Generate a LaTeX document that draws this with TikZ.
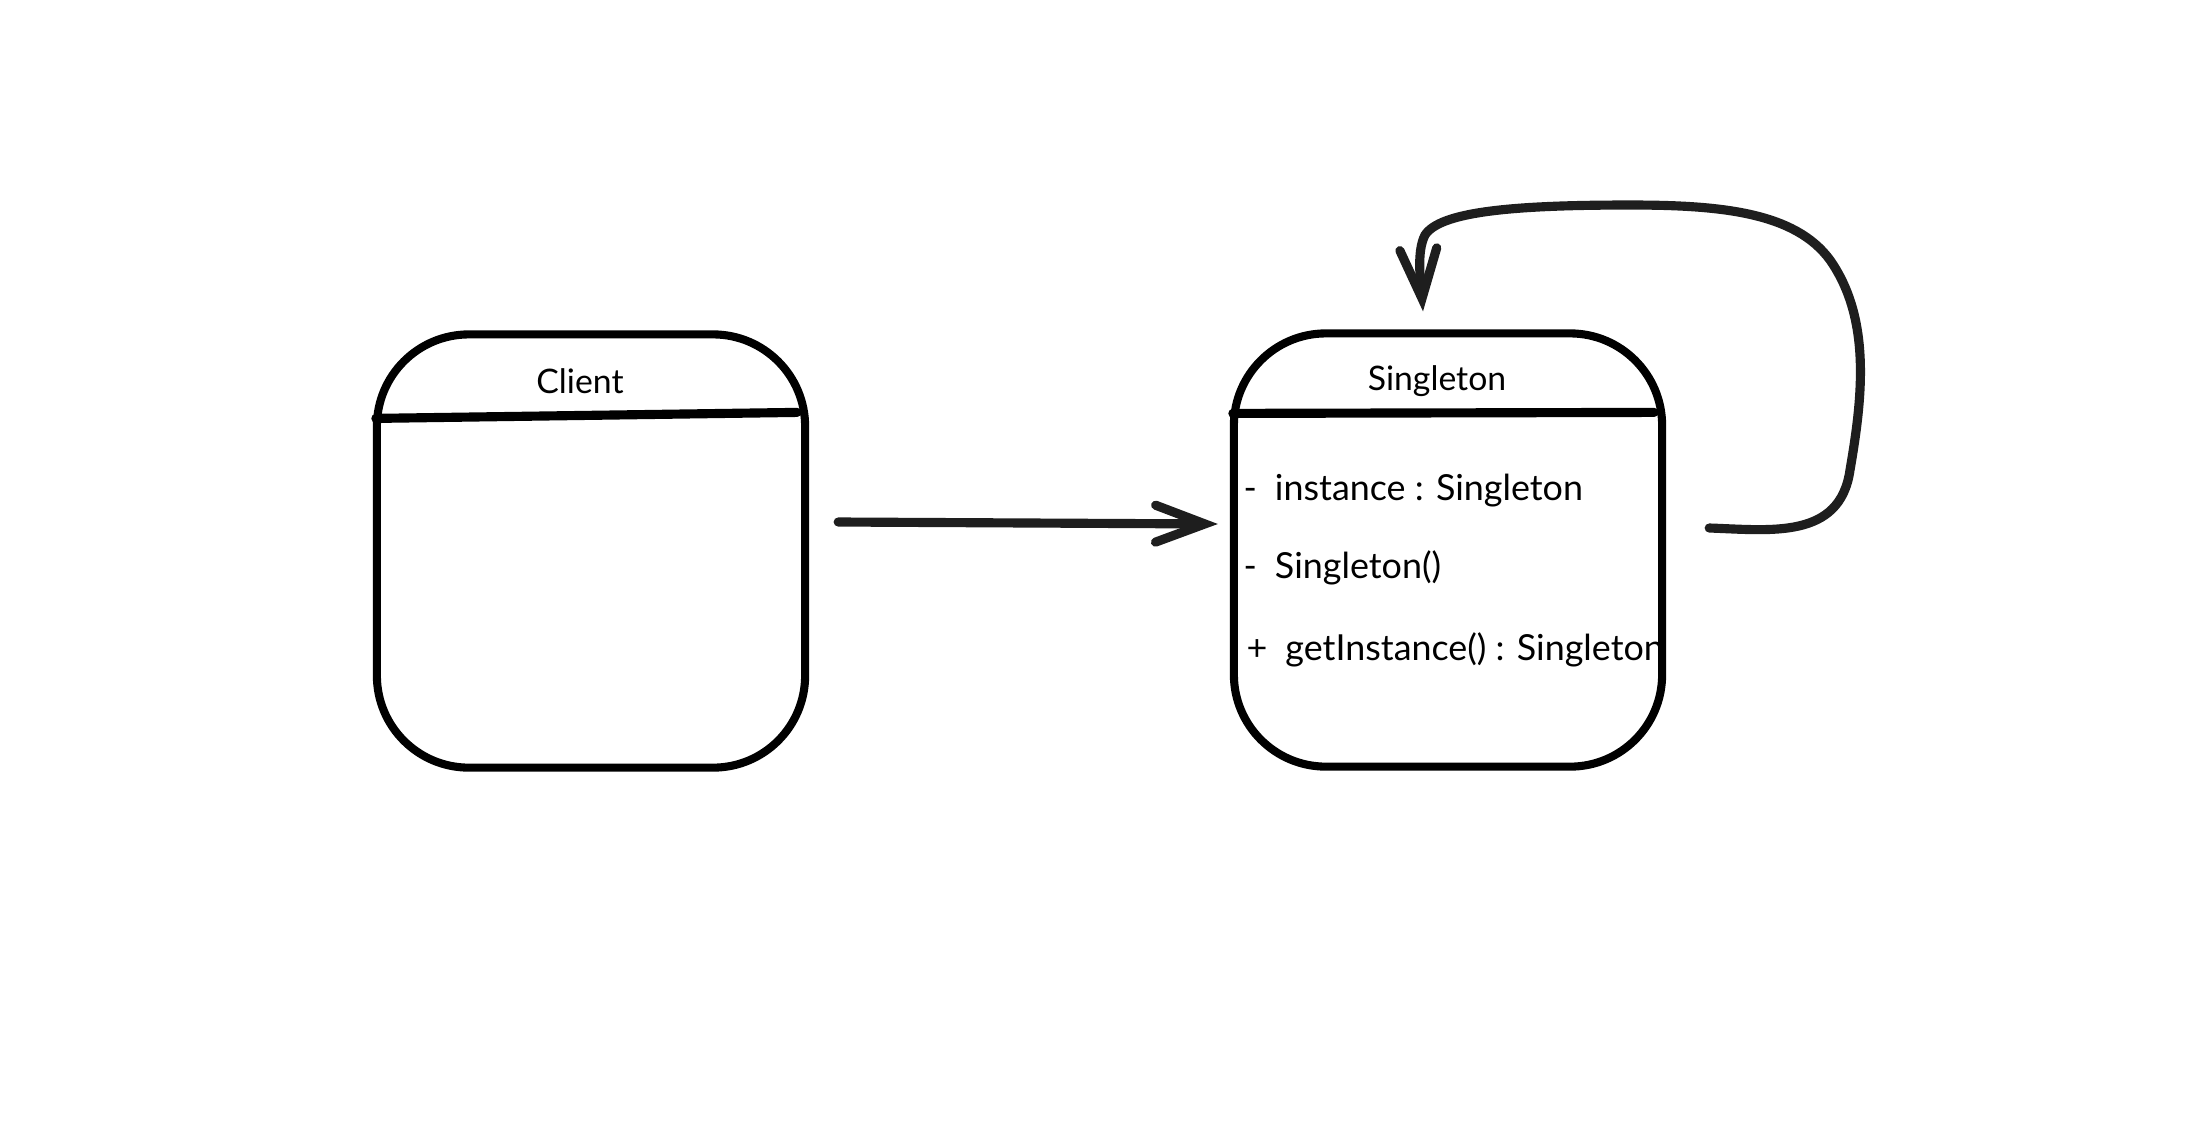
\documentclass[tikz,border=0pt]{standalone}
\usepackage{fontspec}
\setmainfont{Lato}
\usetikzlibrary{arrows.meta}
\definecolor{ink}{HTML}{1E1E1E}
\tikzset{
  classbox/.style={draw=black, line width=2.3pt, rounded corners=0.92cm, minimum width=4.28cm, minimum height=4.33cm, inner sep=0pt},
  headline/.style={draw=black, line width=2.6pt, line cap=round},
  title/.style={font=\fontsize{9.6}{12}\selectfont, anchor=center, inner sep=0pt},
  member/.style={font=\fontsize{10.2}{12}\selectfont, anchor=base west, inner sep=0pt},
  link/.style={draw=ink, line width=2.6pt, line cap=round, line join=round,
    -{Straight Barb[length=14pt,width=10.5pt,line cap=round]}}
}
\begin{document}
\begin{tikzpicture}[x=0.01cm,y=-0.01cm]
\useasboundingbox[fill=white] (0,0) rectangle (2200,1132);
% boxes
\node[classbox] (client) at (591,551) {};
\node[classbox] (singleton) at (1448,550) {};
% header separators
\draw[headline] ([xshift=0.03cm,yshift=-0.88cm]client.north west) -- ([xshift=-0.12cm,yshift=-0.82cm]client.north east);
\draw[headline] ([xshift=0.03cm,yshift=-0.84cm]singleton.north west) -- ([xshift=-0.12cm,yshift=-0.83cm]singleton.north east);
% titles
\node[title] (clientname) at (580,381) {Client};
\node[title] (singletonname) at (1437,381) {Singleton};
% members (clipped by the box outline)
\begin{scope}
\clip[rounded corners=0.88cm] ([xshift=0.04cm,yshift=0.04cm]singleton.south west) rectangle ([xshift=-0.04cm,yshift=-0.04cm]singleton.north east);
\node[member] (m1) at (1243,500) {-\enspace instance : Singleton};
\node[member] (m2) at (1243,578) {-\enspace Singleton()};
\node[member] (m3) at (1246,660) {+\enspace getInstance() : Singleton};
\end{scope}
% association arrow
\draw[link] ([xshift=0.29cm,yshift=0.29cm]client.east) -- ([xshift=-0.12cm,yshift=0.26cm]singleton.west);
% self loop
\coordinate (loopstart) at ([xshift=0.43cm,yshift=0.22cm]singleton.east);
\coordinate (loopend) at ([xshift=-0.25cm,yshift=0.18cm]singleton.north);
\draw[link] (loopstart) .. controls (1770,530) and (1840,540) .. (1850,470)
  .. controls (1862,400) and (1872,320) .. (1830,260)
  .. controls (1795,212) and (1720,205) .. (1630,205)
  .. controls (1510,205) and (1440,212) .. (1425,235)
  .. controls (1416,252) and (1421,285) .. (loopend);
\end{tikzpicture}
\end{document}
